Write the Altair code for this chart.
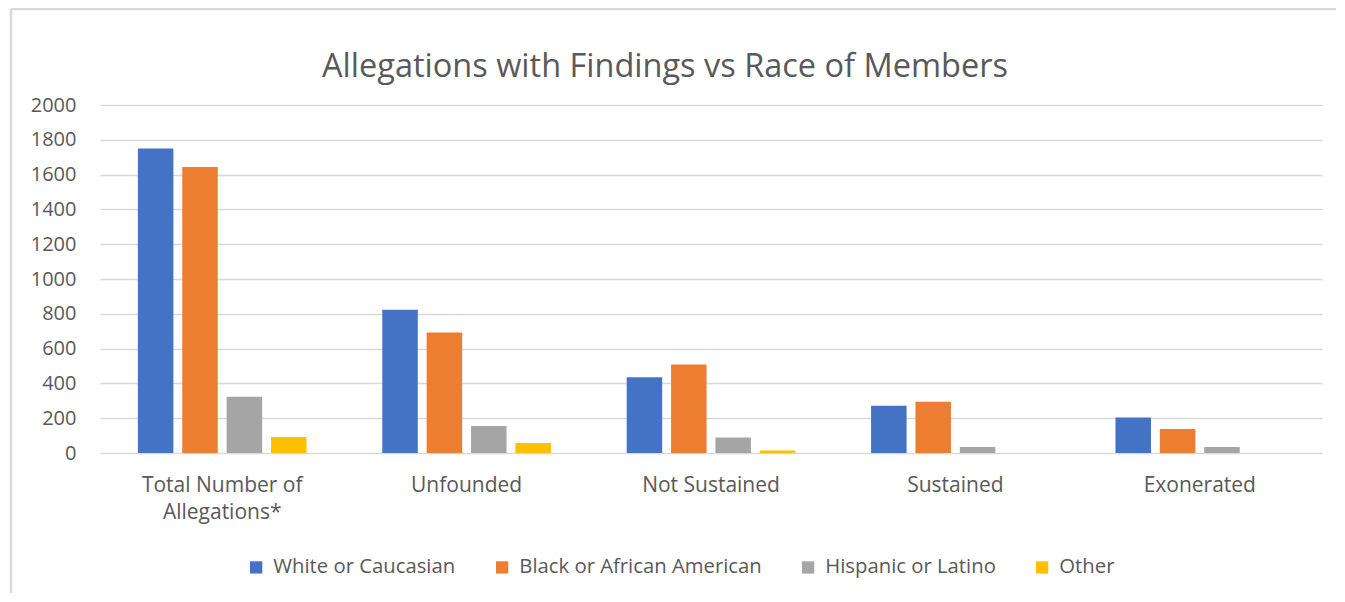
import altair as alt
import pandas as pd

categories = ["Total Number of Allegations*", "Unfounded", "Not Sustained", "Sustained", "Exonerated"]
races = ["White or Caucasian", "Black or African American", "Hispanic or Latino", "Other"]
white = [1750, 823, 435, 271, 204]
black = [1644, 692, 508, 294, 138]
hispanic = [323, 155, 89, 35, 35]
other = [92, 58, 15, 0, 0]
colors = ["#4472C4", "#ED7D31", "#A5A5A5", "#FFC000"]

rows = []
for series, vals in zip(races, [white, black, hispanic, other]):
    for c, v in zip(categories, vals):
        rows.append({"Finding": c, "Race": series, "Count": v})
df = pd.DataFrame(rows)

FONT = "Open Sans"
TXT = "#595959"

bars = alt.Chart(df).mark_bar().encode(
    x=alt.X("Finding:N", sort=categories, title=None,
            scale=alt.Scale(paddingInner=0.31, paddingOuter=0.155),
            axis=alt.Axis(labelAngle=0, domain=False, ticks=False, labelPadding=21,
                          labelFontSize=21, labelColor=TXT, labelFont=FONT,
                          labelExpr="datum.label == 'Total Number of Allegations*' ? ['Total Number of', 'Allegations*'] : datum.label",
                          labelLineHeight=27, labelLimit=400)),
    xOffset=alt.XOffset("Race:N", sort=races, scale=alt.Scale(paddingInner=0.2)),
    y=alt.Y("Count:Q", title=None,
            scale=alt.Scale(domain=[0, 2000], nice=False),
            axis=alt.Axis(values=list(range(0, 2001, 200)), format="d", domain=False, ticks=False,
                          labelPadding=24, labelFontSize=20, labelColor=TXT, labelFont=FONT,
                          gridColor="#D9D9D9", gridWidth=1.5)),
    color=alt.Color("Race:N", sort=races,
                    scale=alt.Scale(domain=races, range=colors),
                    legend=alt.Legend(title=None, orient="none", direction="horizontal",
                                      legendX=146, legendY=452,
                                      symbolType="square", symbolSize=150, symbolStrokeWidth=0,
                                      labelFontSize=20.3, labelColor=TXT, labelFont=FONT,
                                      labelLimit=400, columnPadding=36, labelOffset=7)),
)

frame_base = alt.Chart(pd.DataFrame({"f": [0]}))
frame_left = frame_base.mark_rule(color="#D9D9D9", strokeWidth=2.5).encode(
    x=alt.value(-89), y=alt.value(-96), y2=alt.value(520)
)
frame_top = frame_base.mark_rule(color="#D9D9D9", strokeWidth=2.5).encode(
    x=alt.value(-89), x2=alt.value(1300), y=alt.value(-96)
)

chart = alt.layer(bars, frame_left, frame_top).properties(
    width=1222, height=348,
    title=alt.Title("Allegations with Findings vs Race of Members", fontSize=32.5,
                    font=FONT, fontWeight="normal", color=TXT, anchor="middle",
                    dx=-46, offset=13, dy=89),
    autosize=alt.AutoSizeParams(type="none"),
    padding={"left": 92, "top": 97, "right": 14, "bottom": 140},
).configure_view(stroke=None)

chart.save("out.html", embed_options={"renderer": "svg", "actions": False})
